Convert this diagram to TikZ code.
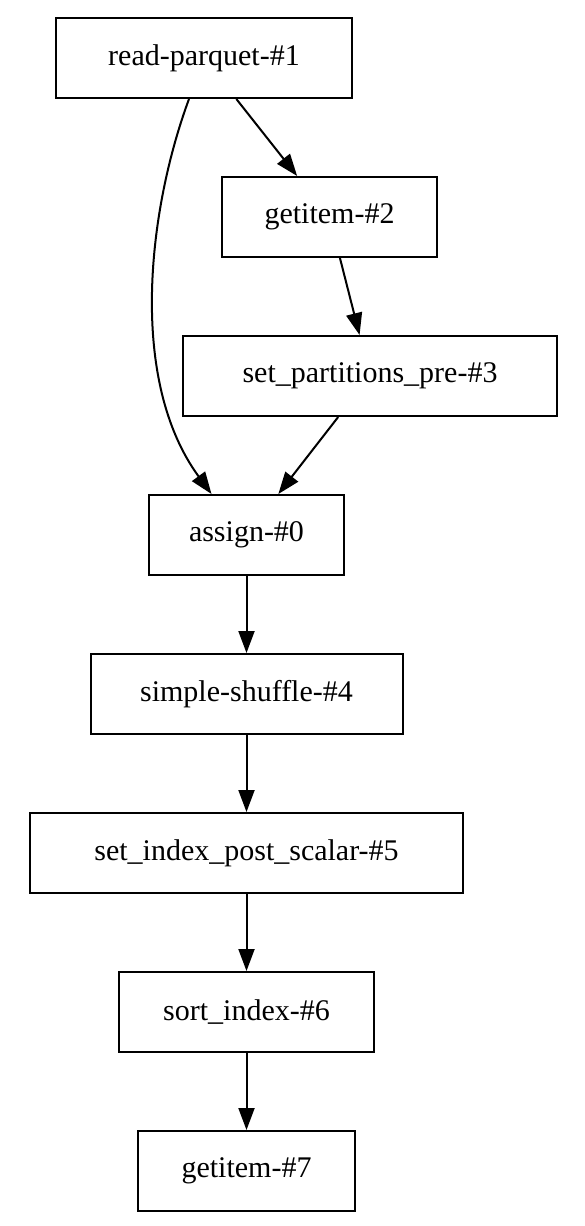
\documentclass[tikz,border=0pt]{standalone}
\usepackage{fontspec}
\setmainfont{Liberation Serif}
\usetikzlibrary{arrows.meta,positioning}

\begin{document}
\begin{tikzpicture}[%
    >={Triangle[length=11pt,width=8pt]}, % Filled arrow heads
    node distance=79.5pt,                % Global setup of box spacing
    ]
% -------------------------------------------------
% A few box styles
% <on grid> keeps the boxes centred on one another
\tikzset{
  base/.style={draw, line width=1pt, on grid, align=center, minimum height=40pt,
    font=\fontsize{15pt}{17pt}\selectfont, inner xsep=0pt},
  task/.style={base, rectangle},
  % Connector line style
  norm/.style={->, draw, line width=1pt}
}
\useasboundingbox (0,0) rectangle (292pt,-613pt);
% -------------------------------------------------
% Start by placing the nodes
\node [task, minimum width=148pt] (rp) at (102pt,-29pt) {read-parquet-\#1};
\node [task, minimum width=107.5pt, below = of rp, xshift=62.75pt] (gia) {getitem-\#2};
\node [task, minimum width=187pt, below = of gia, xshift=20.25pt] (spp) {set\_partitions\_pre-\#3};
\node [task, minimum width=97.5pt, below = of spp, xshift=-61.75pt] (as) {assign-\#0};
\node [task, minimum width=156pt, below = of as] (ss) {simple-shuffle-\#4};
\node [task, minimum width=216.5pt, below = of ss] (sip) {set\_index\_post\_scalar-\#5};
\node [task, minimum width=127.5pt, below = of sip] (si) {sort\_index-\#6};
\node [task, minimum width=108.5pt, below = of si] (gib) {getitem-\#7};

\draw [norm] (rp) -- (gia);	%read-parquet,getitem
\draw [norm] (gia) -- (spp);	%getitem,set_partitions_pre
\draw [norm] (spp) -- (as);	%set_partitions_pre,assign
\draw [norm] ([xshift=-7.5pt]rp.south) .. controls (74pt,-105pt) and (64pt,-190pt)
  .. ([xshift=-17.5pt]as.north);	%read-parquet,assign
\draw [norm] (as) -- (ss);	%assign,simple-shuffle
\draw [norm] (ss) -- (sip);	%simple-shuffle,set_index_post_scalar
\draw [norm] (sip) -- (si);	%set_index_post_scalar,sort_index
\draw [norm] (si) -- (gib);	%sort_index,getitem

% -------------------------------------------------
\end{tikzpicture}
\end{document}
